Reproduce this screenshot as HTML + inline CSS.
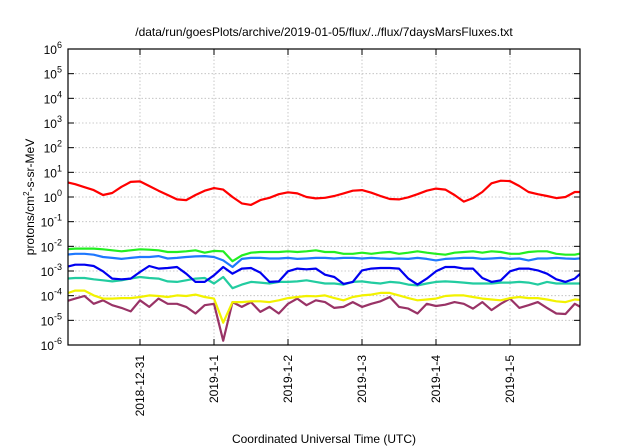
<!DOCTYPE html>
<html><head><meta charset="utf-8"><style>
html,body{margin:0;padding:0;background:#fff;}
svg{display:block;font-family:"Liberation Sans",sans-serif;}
</style></head><body>
<svg id="chart" width="640" height="448" viewBox="0 0 640 448" xmlns="http://www.w3.org/2000/svg">
<rect width="640" height="448" fill="#fff"/>
<text x="324" y="36" font-size="12" text-anchor="middle">/data/run/goesPlots/archive/2019-01-05/flux/../flux/7daysMarsFluxes.txt</text>
<text transform="translate(34,197) rotate(-90)" font-size="12" text-anchor="middle">protons/cm<tspan font-size="8" dy="-5">2</tspan><tspan dy="5">-s-sr-MeV</tspan></text>
<text x="324" y="443" font-size="12" text-anchor="middle">Coordinated Universal Time (UTC)</text>
<g id="grid"></g>
<g id="axes"></g>
<defs><clipPath id="pc"><rect x="68" y="49" width="512" height="296"/></clipPath></defs>
<g id="series" clip-path="url(#pc)"></g>
<rect x="68" y="49" width="512" height="296" fill="none" stroke="#000" stroke-width="1.2"/>
</svg>
<script>
// hours since 2018-12-30 00:00 UTC, every 3 h
const hours = Array.from({length:57},(_,k)=>k*3);
const yExponents = [-6,-5,-4,-3,-2,-1,0,1,2,3,4,5,6];
const dateTickLabels = ["2018-12-31","2019-1-1","2019-1-2","2019-1-3","2019-1-4","2019-1-5"];
const dateTickHours = [24,48,72,96,120,144];
const redFlux = [4.0,3.3,2.5,1.9,1.2,1.45,2.6,4.1,4.3,2.8,1.8,1.2,0.8,0.75,1.2,1.8,2.3,2.0,1.0,0.55,0.48,0.75,0.93,1.3,1.55,1.4,1.0,0.88,0.93,
 1.1,1.4,1.8,1.9,1.5,1.1,0.83,0.8,0.97,1.3,1.8,2.2,2.0,1.2,0.65,0.9,1.6,3.6,4.6,4.4,2.8,1.6,1.3,1.1,0.9,1.0,1.6,1.6];
const greenFlux = [7.6e-3,8.1e-3,8.1e-3,8.1e-3,7.6e-3,6.9e-3,6.3e-3,6.9e-3,7.6e-3,7.3e-3,6.9e-3,5.9e-3,5.9e-3,6.3e-3,6.9e-3,5.5e-3,6.5e-3,6.3e-3,2.5e-3,4.3e-3,5.5e-3,5.9e-3,5.9e-3,5.9e-3,6.3e-3,5.9e-3,6.3e-3,6.9e-3,5.9e-3,
 5.9e-3,5.0e-3,5.0e-3,5.5e-3,5.0e-3,5.5e-3,5.9e-3,5.0e-3,5.5e-3,6.3e-3,5.5e-3,5.0e-3,4.6e-3,5.5e-3,5.9e-3,6.3e-3,5.5e-3,6.3e-3,5.9e-3,5.0e-3,5.0e-3,5.9e-3,6.3e-3,6.3e-3,5.0e-3,4.6e-3,4.6e-3,5.5e-3];
const lightBlueFlux = [4.6e-3,5.0e-3,5.0e-3,4.6e-3,3.7e-3,3.4e-3,3.1e-3,3.4e-3,3.7e-3,3.7e-3,4.0e-3,3.2e-3,3.4e-3,3.7e-3,3.9e-3,4.0e-3,3.7e-3,2.7e-3,1.45e-3,3.1e-3,3.4e-3,3.4e-3,3.2e-3,3.2e-3,3.4e-3,3.1e-3,3.2e-3,3.4e-3,3.4e-3,
 3.2e-3,3.4e-3,3.4e-3,3.2e-3,3.4e-3,3.2e-3,3.1e-3,3.2e-3,3.1e-3,3.4e-3,3.1e-3,2.7e-3,3.1e-3,3.2e-3,3.4e-3,3.4e-3,3.1e-3,3.2e-3,3.4e-3,3.1e-3,3.2e-3,2.7e-3,3.2e-3,3.2e-3,3.4e-3,3.2e-3,3.1e-3,3.4e-3];
const blueFlux = [1.45e-3,1.8e-3,1.8e-3,1.6e-3,9.7e-4,4.9e-4,4.6e-4,4.9e-4,9.1e-4,1.6e-3,1.25e-3,1.32e-3,1.45e-3,7.8e-4,3.6e-4,3.6e-4,6.7e-4,1.45e-3,7.8e-4,1.25e-3,1.32e-3,8.6e-4,3.6e-4,3.8e-4,9.7e-4,1.25e-3,1.17e-3,1.25e-3,7.1e-4,
 5.7e-4,3.0e-4,3.6e-4,1.06e-3,1.25e-3,1.32e-3,1.32e-3,1.25e-3,4.9e-4,2.8e-4,4.9e-4,9.7e-4,1.45e-3,1.45e-3,1.25e-3,1.25e-3,5.2e-4,3.6e-4,4.2e-4,9.7e-4,1.25e-3,1.25e-3,1.06e-3,7.8e-4,4.6e-4,3.6e-4,4.9e-4,1.06e-3];
const cyanFlux = [4.9e-4,5.2e-4,5.2e-4,4.6e-4,4.2e-4,3.8e-4,4.2e-4,4.9e-4,5.7e-4,5.2e-4,4.9e-4,3.8e-4,3.6e-4,4.2e-4,4.9e-4,5.2e-4,3.1e-4,5.7e-4,2.0e-4,2.8e-4,3.6e-4,3.4e-4,3.1e-4,3.6e-4,3.6e-4,3.8e-4,4.2e-4,3.6e-4,3.1e-4,
 3.1e-4,2.8e-4,3.6e-4,3.8e-4,3.4e-4,3.1e-4,3.6e-4,3.4e-4,2.8e-4,2.6e-4,3.1e-4,3.6e-4,3.8e-4,3.6e-4,3.4e-4,3.1e-4,3.1e-4,3.1e-4,3.4e-4,3.4e-4,3.6e-4,3.4e-4,2.8e-4,3.6e-4,3.1e-4,3.1e-4,3.1e-4,3.1e-4];
const yellowFlux = [1.2e-4,1.6e-4,1.6e-4,1.03e-4,7.6e-5,7.6e-5,8.0e-5,8.0e-5,8.8e-5,1.03e-4,9.7e-5,8.8e-5,1.03e-4,9.7e-5,1.1e-4,8.8e-5,7.6e-5,8e-6,5.5e-5,5.5e-5,5.9e-5,5.9e-5,5.5e-5,6.5e-5,8.0e-5,8.8e-5,9.7e-5,9.4e-5,1.03e-4,
 8.0e-5,6.5e-5,8.8e-5,1.03e-4,1.1e-4,1.3e-4,1.3e-4,1.03e-4,8.0e-5,6.5e-5,7.0e-5,7.6e-5,9.7e-5,1.03e-4,1.03e-4,8.8e-5,7.6e-5,7.0e-5,6.5e-5,8.0e-5,8.8e-5,8.0e-5,8.0e-5,7.0e-5,5.9e-5,5.5e-5,7.0e-5,6.5e-5];
const purpleFlux = [5.9e-5,7.6e-5,9.7e-5,4.7e-5,6.5e-5,4.1e-5,3.2e-5,2.3e-5,6.5e-5,3.5e-5,7.6e-5,4.7e-5,4.7e-5,3.5e-5,1.9e-5,4.1e-5,4.7e-5,1.5e-6,5.5e-5,3.5e-5,5.5e-5,2.2e-5,3.5e-5,1.9e-5,4.7e-5,7.6e-5,4.1e-5,6.5e-5,5.5e-5,
 3.2e-5,3.5e-5,5.5e-5,3.5e-5,4.7e-5,5.9e-5,8.8e-5,3.5e-5,3.0e-5,1.9e-5,4.7e-5,3.8e-5,4.3e-5,5.5e-5,4.7e-5,3.0e-5,5.5e-5,2.6e-5,4.7e-5,7.6e-5,3.2e-5,4.1e-5,5.5e-5,3.2e-5,1.9e-5,1.8e-5,4.7e-5,2.9e-5];

const NS="http://www.w3.org/2000/svg";
const L=68,R=580,T=49,B=345;
const H0=0.65,H1=166.7;
function xScale(h){return L+(h-H0)/(H1-H0)*(R-L);}
function yScale(v){return B-(Math.log10(v)+6)/12*(B-T);}
const grid=document.getElementById('grid'),axes=document.getElementById('axes'),series=document.getElementById('series');
function mk(tag,attrs,parent){const e=document.createElementNS(NS,tag);for(const k in attrs)e.setAttribute(k,attrs[k]);parent.appendChild(e);return e;}

yExponents.forEach(p=>{
  const y=yScale(Math.pow(10,p));
  if(p>-6&&p<6){
    const g=mk('line',{x1:L,x2:R,y1:y,y2:y,stroke:'#bbb','stroke-width':0.8,'stroke-dasharray':'1.5,2'},grid);
    
    
  }
  const t1=mk('line',{x1:L,x2:L+6,y1:y,y2:y,stroke:'#000'},axes);
  
  
  const t2=mk('line',{x1:R-6,x2:R,y1:y,y2:y,stroke:'#000'},axes);
  
  
  const tx=mk('text',{x:62,y:y+5,'font-size':12,'text-anchor':'end'},axes);
  
  
  tx.appendChild(document.createTextNode('10'));
  const sup=mk('tspan',{'font-size':9,dy:-6},tx);
  sup.textContent=String(p);
});
dateTickHours.forEach((h,i)=>{
  const x=xScale(h);
  const g=mk('line',{x1:x,x2:x,y1:T,y2:B,stroke:'#bbb','stroke-width':0.8,'stroke-dasharray':'1.5,2'},grid);
  
  
  const t1=mk('line',{x1:x,x2:x,y1:B-6,y2:B,stroke:'#000'},axes);
  
  
  const t2=mk('line',{x1:x,x2:x,y1:T,y2:T+6,stroke:'#000'},axes);
  
  
  const tx=mk('text',{transform:`translate(${x+4},355) rotate(-90)`,'font-size':12,'text-anchor':'end'},axes);
  
  
  tx.textContent=dateTickLabels[i];
});
const seriesList=[
  ['purple-flux',purpleFlux,'#993366'],
  ['yellow-flux',yellowFlux,'#f2f200'],
  ['cyan-flux',cyanFlux,'#22cca0'],
  ['blue-flux',blueFlux,'#0000f0'],
  ['light-blue-flux',lightBlueFlux,'#1e78ff'],
  ['green-flux',greenFlux,'#22ee22'],
  ['red-flux',redFlux,'#ff0000']
];
seriesList.forEach(([name,vals,col])=>{
  const d=vals.map((v,i)=>(i?'L':'M')+xScale(hours[i]).toFixed(1)+','+yScale(v).toFixed(1)).join('');
  const p=mk('path',{d:d,fill:'none',stroke:col,'stroke-width':2.2,'stroke-linejoin':'round'},series);
  
  
});
</script>
</body></html>
